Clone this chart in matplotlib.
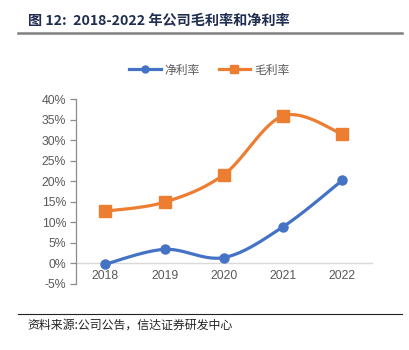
import matplotlib

matplotlib.use("Agg")

import matplotlib.pyplot as plt
import numpy as np
from matplotlib.lines import Line2D
from matplotlib.ticker import FuncFormatter, MultipleLocator

plt.rcParams["font.family"] = ["Noto Sans CJK SC", "DejaVu Sans"]

YEARS = ["2018", "2019", "2020", "2021", "2022"]
NET_MARGIN = [-0.2, 3.4, 1.4, 8.9, 20.2]
GROSS_MARGIN = [12.7, 14.9, 21.6, 35.9, 31.5]

BLUE = "#4472C4"
ORANGE = "#ED7D31"
GRAY_TEXT = "#595959"


def smooth(x, y, steps=30):
    # Catmull-Rom style curve through the points, like Excel's "smoothed line"
    x = np.asarray(x, float)
    y = np.asarray(y, float)
    px = np.concatenate([[x[0]], x, [x[-1]]])
    py = np.concatenate([[y[0]], y, [y[-1]]])
    out_x, out_y = [], []
    t = np.linspace(0, 1, steps)
    for i in range(1, len(px) - 2):
        p0, p1, p2, p3 = (np.array([px[j], py[j]]) for j in range(i - 1, i + 3))
        c1 = p1 + (p2 - p0) / 6
        c2 = p2 - (p3 - p1) / 6
        pts = (
            ((1 - t) ** 3)[:, None] * p1
            + (3 * (1 - t) ** 2 * t)[:, None] * c1
            + (3 * (1 - t) * t ** 2)[:, None] * c2
            + (t ** 3)[:, None] * p2
        )
        out_x.extend(pts[:, 0])
        out_y.extend(pts[:, 1])
    return np.array(out_x), np.array(out_y)


fig = plt.figure(figsize=(4.1, 3.5), dpi=100)
ax = fig.add_axes([0.185, 0.189, 0.722, 0.528])

xs = np.arange(len(YEARS))
for vals, color, marker, ms in [
    (NET_MARGIN, BLUE, "o", 6.5),
    (GROSS_MARGIN, ORANGE, "s", 8),
]:
    sx, sy = smooth(xs, vals)
    ax.plot(sx, sy, color=color, lw=2.3, solid_capstyle="round", zorder=3)
    ax.plot(xs, vals, ls="none", marker=marker, ms=ms, color=color, zorder=4)

ax.set_xlim(-0.5, 4.5)
ax.set_ylim(-5, 40)
ax.yaxis.set_major_locator(MultipleLocator(5))
ax.yaxis.set_major_formatter(FuncFormatter(lambda v, _: f"{v:.0f}%"))
ax.set_xticks(xs)
ax.set_xticklabels(YEARS)

for side in ["top", "right"]:
    ax.spines[side].set_visible(False)
ax.spines["left"].set_color("#8c8c8c")
ax.spines["left"].set_linewidth(0.9)
ax.spines["bottom"].set_position(("data", 0))
ax.spines["bottom"].set_color("#d9d9d9")
ax.spines["bottom"].set_linewidth(1.0)
ax.spines["bottom"].set_zorder(1)

ax.tick_params(axis="y", length=4, width=0.9, color="#8c8c8c",
               labelsize=8.8, labelcolor=GRAY_TEXT, pad=3)
ax.tick_params(axis="x", length=0, labelsize=8.8, labelcolor=GRAY_TEXT, pad=5)
for lab in ax.get_xticklabels() + ax.get_yticklabels():
    lab.set_family(["Liberation Sans", "DejaVu Sans"])

handles = [
    Line2D([], [], color=BLUE, lw=2.3, marker="o", ms=5),
    Line2D([], [], color=ORANGE, lw=2.3, marker="s", ms=6),
]
fig.legend(handles, ["净利率", "毛利率"], loc="center", bbox_to_anchor=(0.51, 0.8),
           ncol=2, frameon=False, fontsize=8.5, labelcolor=GRAY_TEXT,
           handlelength=2.7, columnspacing=1.6, handletextpad=0.3)

fig.text(0.068, 0.94, "图 12:  2018-2022 年公司毛利率和净利率", fontsize=10.2,
         fontweight="bold", color="#1F2D50", va="center", ha="left")
fig.add_artist(Line2D([0.044, 0.98], [0.905, 0.905], color="#808080", lw=1.8))
fig.add_artist(Line2D([0.044, 0.98], [0.103, 0.103], color="#222222", lw=0.8))
fig.text(0.068, 0.072, "资料来源:公司公告，信达证券研发中心", fontsize=8.6,
         color="#222222", va="center", ha="left")

fig.savefig("out.png", dpi=100)
